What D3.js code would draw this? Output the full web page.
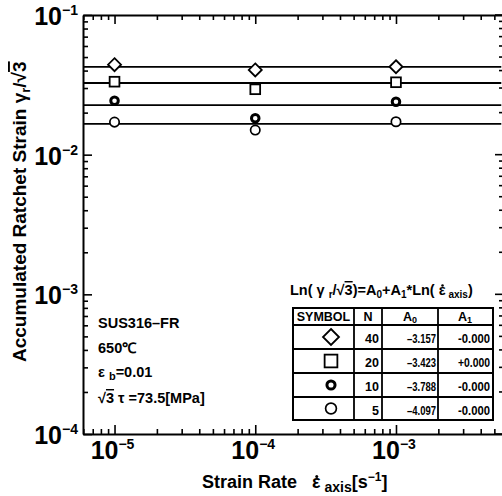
<!DOCTYPE html>
<html><head><meta charset="utf-8">
<script src="https://cdn.jsdelivr.net/npm/d3@7"></script>
<style>
html,body{margin:0;padding:0;background:#fff;overflow:hidden;}
svg{display:block;font-family:"Liberation Sans",Arial,sans-serif;}
text{white-space:pre;}
</style></head>
<body>
<svg id="chart" width="502" height="496"></svg>
<script>
// ---- data ----
const strainRates = [1e-5, 1e-4, 1e-3];
const seriesN = [40, 20, 10, 5];
const seriesSymbol = ["diamond", "square", "circleBold", "circle"];
const diamondVals = [0.0441, 0.0404, 0.0426];
const squareVals = [0.0333, 0.0294, 0.0330];
const boldCircleVals = [0.0243, 0.0182, 0.0239];
const circleVals = [0.0171, 0.0150, 0.0172];
const fitA0 = [-3.157, -3.423, -3.788, -4.097];
const fitA1 = [-0.000, 0.000, -0.000, -0.000];
const a0Labels = ["–3.157", "–3.423", "–3.788", "–4.097"];
const a1Labels = ["-0.000", "+0.000", "-0.000", "-0.000"];
const xTickExps = [-5, -4, -3];
const yTickExps = [-4, -3, -2, -1];
const annotLines = ["SUS316–FR", "650℃", "ε b=0.01", "√3 τ =73.5[MPa]"];

const seriesVals = [diamondVals, squareVals, boldCircleVals, circleVals];

// ---- layout ----
const L = 83, R = 503, T = 15, B = 434;
const svg = d3.select("#chart");
const x = d3.scaleLog().domain([5.97e-6, 5.76e-3]).range([L, R]);
const y = d3.scaleLog().domain([1e-4, 1e-1]).range([B, T]);

function minors(lo, hi, scale) {
  const out = [];
  for (let e = lo; e <= hi; e++) for (let k = 2; k <= 9; k++) {
    const v = k * Math.pow(10, e);
    const d = scale.domain();
    if (v >= d[0] && v <= d[1]) out.push(v);
  }
  return out;
}
const xMajor = [1e-5, 1e-4, 1e-3];
const xMinor = minors(-6, -3, x);
const yMajor = [1e-4, 1e-3, 1e-2, 1e-1];
const yMinor = minors(-4, -2, y);

function drawAxis(axisFn, scale, transform, vals, size, showDomain) {
  const g = svg.append("g").attr("transform", transform)
    .call(axisFn(scale).tickValues(vals).tickSize(-size).tickSizeOuter(0).tickFormat(""));
  g.selectAll("line").attr("stroke", "#000").attr("stroke-width", 1.6);
  g.selectAll("text").remove();
  if (showDomain) g.select(".domain").attr("stroke", "#000").attr("stroke-width", 2);
  else g.select(".domain").remove();
  return g;
}
// bottom
drawAxis(d3.axisBottom, x, `translate(0,${B})`, xMajor, 9, true);
drawAxis(d3.axisBottom, x, `translate(0,${B})`, xMinor, 5, false);
// top
drawAxis(d3.axisTop, x, `translate(0,${T})`, xMajor, 9, true);
drawAxis(d3.axisTop, x, `translate(0,${T})`, xMinor, 5, false);
// left
drawAxis(d3.axisLeft, y, `translate(${L},0)`, yMajor, 9, true);
drawAxis(d3.axisLeft, y, `translate(${L},0)`, yMinor, 5, false);
// right-side inward ticks (the border line itself lies beyond the picture)
const rg = svg.append("g");
yMajor.forEach(v => rg.append("line").attr("x1", 495).attr("x2", 502)
  .attr("y1", y(v)).attr("y2", y(v)).attr("stroke", "#000").attr("stroke-width", 1.6));
yMinor.forEach(v => rg.append("line").attr("x1", 499).attr("x2", 502)
  .attr("y1", y(v)).attr("y2", y(v)).attr("stroke", "#000").attr("stroke-width", 1.6));

// tick labels
const xl = svg.append("g");
xTickExps.forEach(e => {
  const t = xl.append("text").attr("x", x(Math.pow(10, e)) - 2).attr("y", 459)
    .attr("text-anchor", "middle").attr("font-size", 25).attr("font-weight", "bold");
  t.append("tspan").text("10");
  t.append("tspan").attr("dy", -10).attr("font-size", 14).text("−" + Math.abs(e));
});
const yl = svg.append("g");
yTickExps.forEach(e => {
  const t = yl.append("text").attr("x", 78).attr("y", y(Math.pow(10, e)) + 10)
    .attr("text-anchor", "end").attr("font-size", 25).attr("font-weight", "bold");
  t.append("tspan").text("10");
  t.append("tspan").attr("dy", -10).attr("font-size", 14).text("−" + Math.abs(e));
});

// dot above the epsilon of a text (strain rate notation)
function dotOverEps(textSel, r) {
  const node = textSel.node();
  const idx = node.textContent.indexOf("ε");
  const b = node.getExtentOfChar(idx);
  svg.append("circle").attr("cx", b.x + b.width * 0.55).attr("cy", b.y + b.height * 0.22)
    .attr("r", r).attr("fill", "#000");
}

// axis titles
const xt = svg.append("text").attr("x", 202).attr("y", 488)
  .attr("font-size", 18).attr("font-weight", "bold");
xt.append("tspan").text("Strain Rate   ε");
xt.append("tspan").attr("dy", 4).attr("font-size", 14).text(" axis");
xt.append("tspan").attr("dy", -4).text("[s");
xt.append("tspan").attr("dy", -7).attr("font-size", 12).text("−1");
xt.append("tspan").attr("dy", 7).text("]");
dotOverEps(xt, 1.5);

const yt = svg.append("text").attr("transform", "translate(26,362) rotate(-90)")
  .attr("font-size", 19).attr("font-weight", "bold");
yt.append("tspan").text("Accumulated Ratchet Strain γ");
yt.append("tspan").attr("dy", 4).attr("font-size", 13).text("r");
yt.append("tspan").attr("dy", -4).text("/√");
yt.append("tspan").attr("text-decoration", "overline").text("3");

// fit lines
const lineGen = d3.line().x(d => x(d[0])).y(d => y(d[1]));
fitA0.forEach((a0, i) => {
  const pts = [x.domain()[0], 5.6e-3].map(r => [r, Math.exp(a0 + fitA1[i] * Math.log(r))]);
  svg.append("path").attr("d", lineGen(pts)).attr("fill", "none")
    .attr("stroke", "#000").attr("stroke-width", 1.9);
});

// markers
function marker(g, type, cx, cy, s) {
  if (type === "diamond") {
    g.append("path").attr("d", `M${cx},${cy - s}L${cx + s},${cy}L${cx},${cy + s}L${cx - s},${cy}Z`)
      .attr("fill", "#fff").attr("stroke", "#000").attr("stroke-width", 1.8);
  } else if (type === "square") {
    const h = s * 0.75;
    g.append("rect").attr("x", cx - h).attr("y", cy - h).attr("width", 2 * h).attr("height", 2 * h)
      .attr("fill", "#fff").attr("stroke", "#000").attr("stroke-width", 1.8);
  } else if (type === "circleBold") {
    g.append("circle").attr("cx", cx).attr("cy", cy).attr("r", s * 0.58)
      .attr("fill", "#fff").attr("stroke", "#000").attr("stroke-width", 3);
  } else {
    g.append("circle").attr("cx", cx).attr("cy", cy).attr("r", s * 0.72)
      .attr("fill", "#fff").attr("stroke", "#000").attr("stroke-width", 1.7);
  }
}
const mg = svg.append("g");
seriesVals.forEach((vals, i) => {
  vals.forEach((v, j) => marker(mg, seriesSymbol[i], x(strainRates[j]), y(v), 6.5));
});

// annotation
const ag = svg.append("g");
const annotY = [328, 353, 377, 403];
annotLines.forEach((s, i) => {
  const t = ag.append("text").attr("x", 98).attr("y", annotY[i])
    .attr("font-size", 14.5).attr("font-weight", "bold");
  if (i === 2) {
    t.append("tspan").text("ε ");
    t.append("tspan").attr("dy", 3).attr("font-size", 11).text("b");
    t.append("tspan").attr("dy", -3).text("=0.01");
  } else if (i === 3) {
    t.append("tspan").text("√");
    t.append("tspan").attr("text-decoration", "overline").text("3");
    t.append("tspan").text(" τ =73.5[MPa]");
  } else t.text(s);
});

// formula
const ft = svg.append("text").attr("x", 290).attr("y", 295)
  .attr("font-size", 14.5).attr("font-weight", "bold");
ft.append("tspan").text("Ln( γ ");
ft.append("tspan").attr("dy", 3).attr("font-size", 10).text("r");
ft.append("tspan").attr("dy", -3).text("/√");
ft.append("tspan").attr("text-decoration", "overline").text("3");
ft.append("tspan").text(")=A");
ft.append("tspan").attr("dy", 3).attr("font-size", 10).text("0");
ft.append("tspan").attr("dy", -3).text("+A");
ft.append("tspan").attr("dy", 3).attr("font-size", 10).text("1");
ft.append("tspan").attr("dy", -3).text("*Ln( ε");
ft.append("tspan").attr("dy", 3).attr("font-size", 10).text(" axis");
ft.append("tspan").attr("dy", -3).text(")");
dotOverEps(ft, 1.3);

// table
const colX = [293, 354, 382, 438, 493];
const rowY = [308, 325, 349, 373, 397, 420];
const tg = svg.append("g");
tg.append("rect").attr("x", colX[0]).attr("y", rowY[0]).attr("width", colX[4] - colX[0])
  .attr("height", rowY[5] - rowY[0]).attr("fill", "#fff").attr("stroke", "#000").attr("stroke-width", 2);
colX.slice(1, 4).forEach(cx => tg.append("line").attr("x1", cx).attr("x2", cx)
  .attr("y1", rowY[0]).attr("y2", rowY[5]).attr("stroke", "#000").attr("stroke-width", 1.8));
rowY.slice(1, 5).forEach(ry => tg.append("line").attr("x1", colX[0]).attr("x2", colX[4])
  .attr("y1", ry).attr("y2", ry).attr("stroke", "#000").attr("stroke-width", 1.8));
// header
const hdr = (txt, cx, sub) => {
  const t = tg.append("text").attr("x", cx).attr("y", 321).attr("text-anchor", "middle")
    .attr("font-size", 12.5).attr("font-weight", "bold");
  t.append("tspan").text(txt);
  if (sub !== undefined) t.append("tspan").attr("dy", 2).attr("font-size", 9).text(sub);
};
hdr("SYMBOL", 323.5);
hdr("N", 368);
hdr("A", 410, "0");
hdr("A", 465, "1");
seriesN.forEach((n, i) => {
  const top = rowY[i + 1], mid = (rowY[i + 1] + rowY[i + 2]) / 2;
  const sizes = [8, 8.5, 7, 7.5];
  marker(tg, seriesSymbol[i], 331, mid, sizes[i]);
  tg.append("text").attr("x", 379).attr("y", top + 18).attr("text-anchor", "end")
    .attr("font-size", 12.5).attr("font-weight", "bold").text(n);
  tg.append("text").attr("x", 436).attr("y", top + 18).attr("text-anchor", "end")
    .attr("font-size", 13).attr("font-weight", "bold")
    .attr("textLength", 29).attr("lengthAdjust", "spacingAndGlyphs").text(a0Labels[i]);
  tg.append("text").attr("x", 490).attr("y", top + 18).attr("text-anchor", "end")
    .attr("font-size", 13).attr("font-weight", "bold")
    .attr("textLength", 32).attr("lengthAdjust", "spacingAndGlyphs").text(a1Labels[i]);
});
</script>
</body></html>
